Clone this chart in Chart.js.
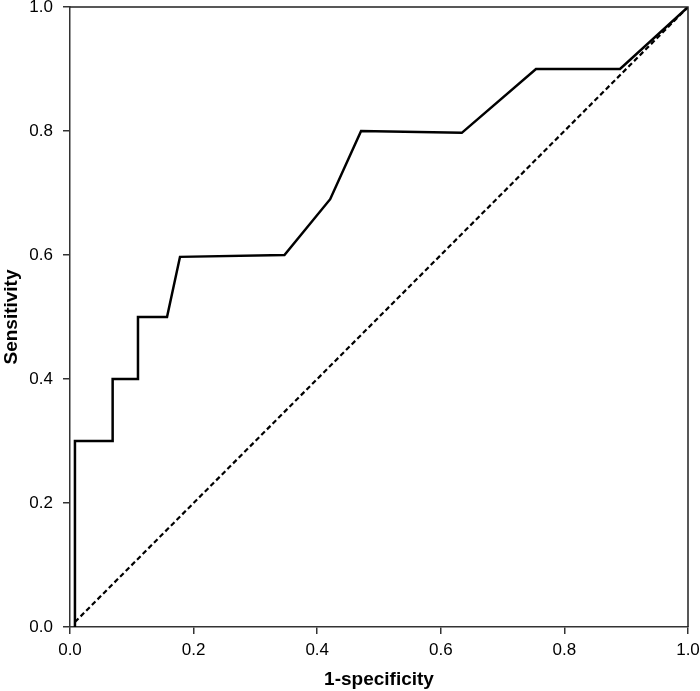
<!DOCTYPE html>
<html>
<head>
<meta charset="utf-8">
<script src="https://cdn.jsdelivr.net/npm/chart.js@4"></script>
<style>
  html, body { margin: 0; padding: 0; background: #fff; }
  #wrap { width: 700px; height: 691px; }
</style>
</head>
<body>
<div id="wrap"><canvas id="roc" width="700" height="691"></canvas></div>
<script>
// ROC curve points
const fpr = [0.008, 0.008, 0.069, 0.069, 0.11, 0.11, 0.157, 0.178, 0.347, 0.421, 0.471, 0.634, 0.754, 0.89, 1.0];
const tpr = [0.0, 0.3, 0.3, 0.4, 0.4, 0.5, 0.5, 0.597, 0.6, 0.69, 0.8, 0.797, 0.9, 0.9, 1.0];
// chance line
const refX = [0.008, 1.0];
const refY = [0.008, 1.0];
const tickValues = [0, 0.2, 0.4, 0.6, 0.8, 1.0];
const xTitle = "1-specificity";
const yTitle = "Sensitivity";

const toPoints = (xs, ys) => xs.map((x, i) => ({ x, y: ys[i] }));

const frame = {
    id: "frame",
    afterDraw(chart) {
        const { ctx, chartArea: a } = chart;
        ctx.save();
        ctx.strokeStyle = "#222";
        ctx.lineWidth = 1.5;
        ctx.beginPath();
        ctx.moveTo(a.left, a.top);
        ctx.lineTo(a.right, a.top);
        ctx.lineTo(a.right, a.bottom);
        ctx.stroke();
        ctx.restore();
    },
};

// drop the label overhang padding so the plot box sits where the reference has it
const noOverhang = (axis) => {
    axis.paddingTop = 0;
    axis.paddingBottom = 0;
    axis.paddingLeft = 0;
    axis.paddingRight = 0;
};

const font = { family: "'Liberation Sans', Arial, sans-serif", size: 17 };
const titleFont = { family: "'Liberation Sans', Arial, sans-serif", size: 19, weight: "bold" };
const axisCommon = {
    type: "linear",
    min: 0,
    max: 1,
    afterBuildTicks: (axis) => { axis.ticks = tickValues.map((v) => ({ value: v })); },
    grid: { display: true, drawOnChartArea: false, drawTicks: true, tickLength: 7, color: "#333", lineWidth: 1.5 },
    border: { display: true, color: "#333", width: 1.5 },
};

new Chart(document.getElementById("roc").getContext("2d"), {
    type: "scatter",
    data: {
        datasets: [
            {
                data: toPoints(fpr, tpr),
                showLine: true,
                borderColor: "#000",
                borderWidth: 2.5,
                pointRadius: 0,
                tension: 0,
            },
            {
                data: toPoints(refX, refY),
                showLine: true,
                borderColor: "#000",
                borderWidth: 2.2,
                borderDash: [5, 3],
                pointRadius: 0,
            },
        ],
    },
    options: {
        responsive: false,
        animation: false,
        layout: { autoPadding: false, padding: { top: 7, right: 12, left: 0, bottom: 0 } },
        plugins: { legend: { display: false }, tooltip: { enabled: false } },
        scales: {
            x: {
                ...axisCommon,
                afterFit: (axis) => { axis.height = 64; noOverhang(axis); },
                ticks: { color: "#000", font, padding: 6, maxRotation: 0, callback: (v) => Number(v).toFixed(1) },
                title: { display: true, text: xTitle, color: "#000", font: titleFont, padding: { top: 6, bottom: 0 } },
            },
            y: {
                ...axisCommon,
                afterFit: (axis) => { axis.width = 70; noOverhang(axis); },
                ticks: { color: "#000", font, padding: 10, callback: (v) => Number(v).toFixed(1) },
                title: { display: true, text: yTitle, color: "#000", font: titleFont, padding: { top: 0, bottom: 2 } },
            },
        },
    },
    plugins: [frame],
});
</script>
</body>
</html>
